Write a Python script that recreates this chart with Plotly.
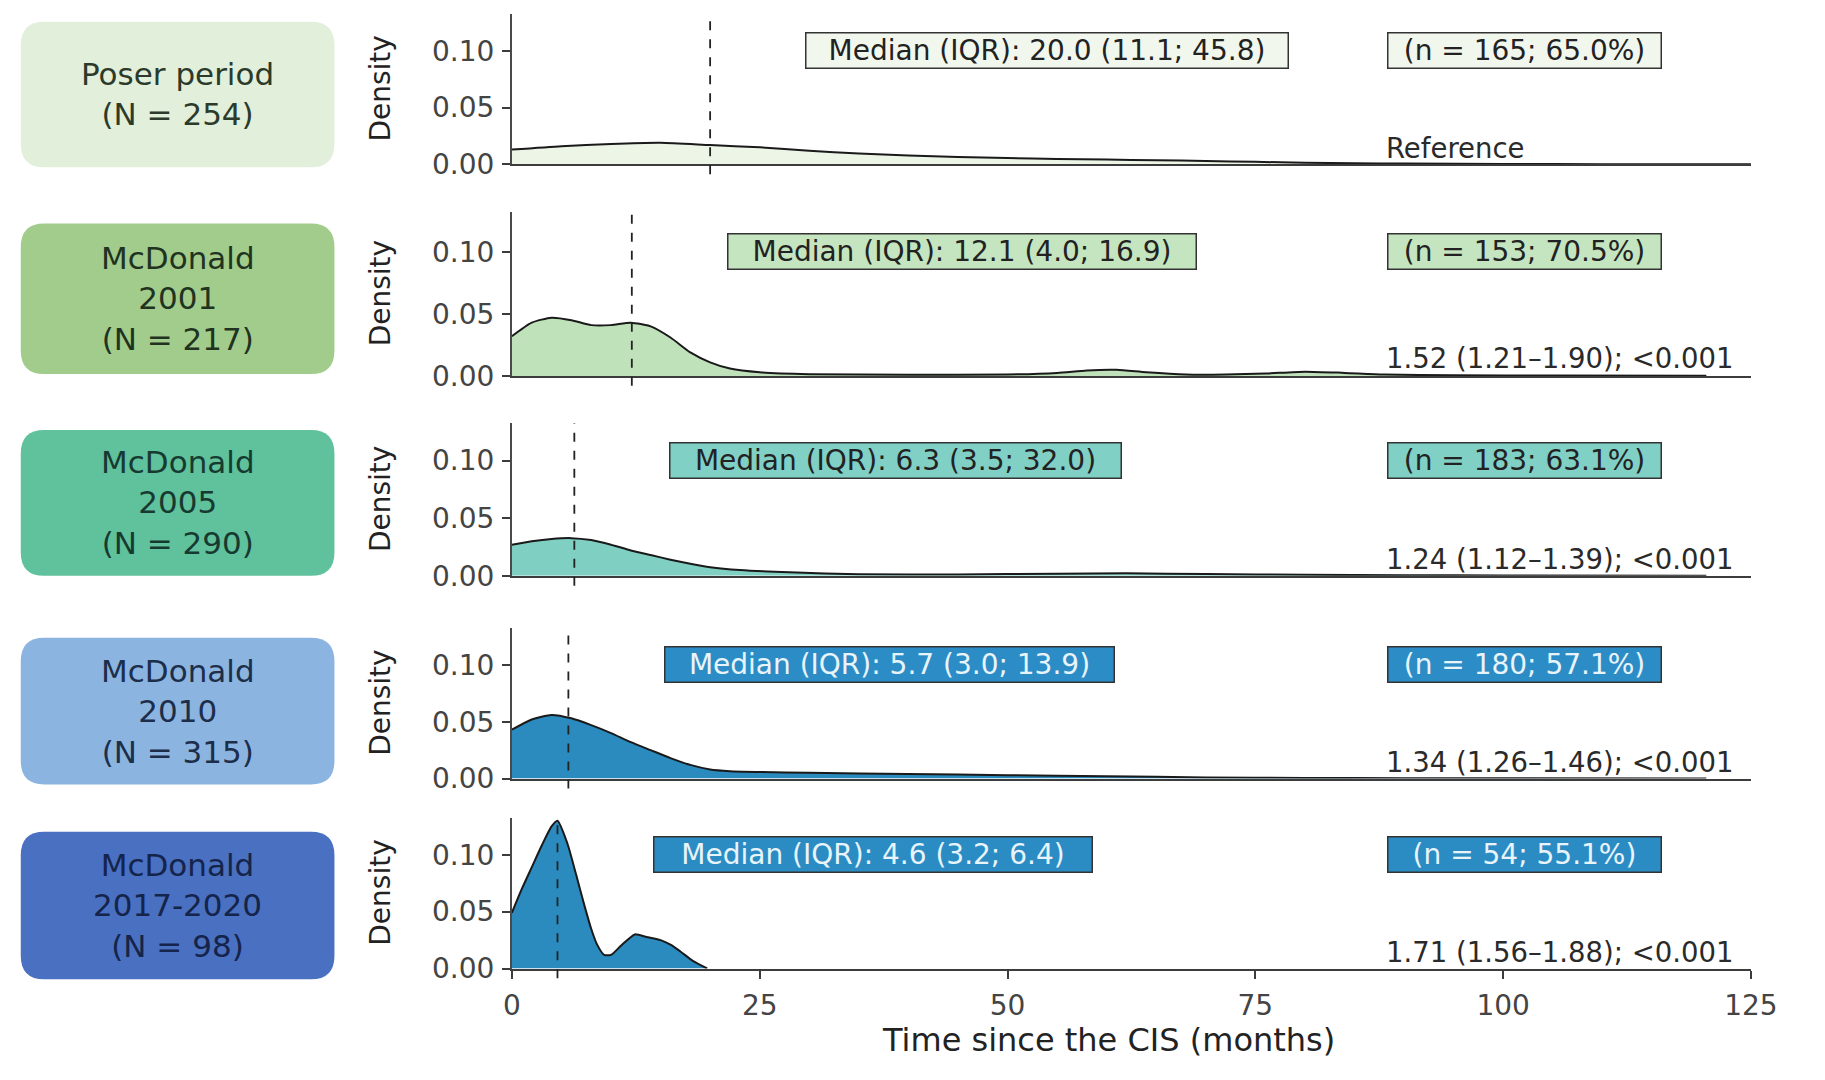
import plotly.graph_objects as go

# ---------------- data ----------------
group_names = ["Poser period", "McDonald<br>2001", "McDonald<br>2005", "McDonald<br>2010", "McDonald<br>2017-2020"]
group_n = [254, 217, 290, 315, 98]

medians = [20.0, 12.1, 6.3, 5.7, 4.6]
iqr_low = [11.1, 4.0, 3.5, 3.0, 3.2]
iqr_high = [45.8, 16.9, 32.0, 13.9, 6.4]
events_n = [165, 153, 183, 180, 54]
events_pct = [65.0, 70.5, 63.1, 57.1, 55.1]
hr_text = ["Reference", "1.52 (1.21–1.90); <0.001", "1.24 (1.12–1.39); <0.001",
           "1.34 (1.26–1.46); <0.001", "1.71 (1.56–1.88); <0.001"]

poser_x = [0, 5, 10, 15, 20, 25, 30, 35, 40, 45, 50, 55, 60, 65, 70, 75, 80, 85, 90, 100, 110, 125]
poser_density = [0.013, 0.016, 0.018, 0.019, 0.017, 0.015, 0.012, 0.0095, 0.0078, 0.0065, 0.0055,
                 0.0048, 0.0042, 0.0036, 0.003, 0.0022, 0.0015, 0.001, 0.0007, 0.0004, 0.0002, 0.0001]

mcd2001_x = [0, 2, 4, 6, 8, 10, 12, 14, 16, 18, 20, 22, 25, 30, 40, 50, 55, 58, 61, 64, 68, 72,
             76, 80, 84, 88, 95, 105, 120.5]
mcd2001_density = [0.032, 0.043, 0.047, 0.045, 0.041, 0.041, 0.043, 0.040, 0.031, 0.019, 0.011,
                   0.006, 0.003, 0.0015, 0.001, 0.0012, 0.0025, 0.0045, 0.005, 0.003, 0.0012,
                   0.0012, 0.002, 0.0035, 0.0025, 0.0012, 0.0005, 0.0003, 0.0001]

mcd2005_x = [0, 2, 4, 6, 8, 10, 12, 14, 16, 18, 20, 23, 28, 35, 45, 55, 62, 70, 80, 90, 100, 120.5]
mcd2005_density = [0.027, 0.030, 0.032, 0.0327, 0.031, 0.027, 0.022, 0.018, 0.014, 0.0105, 0.0075,
                   0.005, 0.003, 0.0014, 0.0012, 0.0018, 0.0022, 0.0015, 0.0008, 0.0005, 0.0003, 0.0001]

mcd2010_x = [0, 2, 4, 6, 8, 10, 12, 14, 16, 18, 20, 22, 25, 30, 40, 50, 60, 70, 80, 90, 100, 120.5]
mcd2010_density = [0.043, 0.052, 0.056, 0.053, 0.047, 0.040, 0.032, 0.025, 0.018, 0.012, 0.008,
                   0.0065, 0.0058, 0.005, 0.004, 0.003, 0.002, 0.001, 0.0005, 0.0003, 0.0002, 0.0001]

mcd2017_x = [0, 1, 2, 3, 4, 4.6, 5.6, 6.5, 7.3, 8.0, 8.6, 9.3, 10.0, 11.0, 12.4, 13.5, 15, 16, 17, 18.3, 19.7]
mcd2017_density = [0.049, 0.07, 0.089, 0.108, 0.125, 0.13, 0.11, 0.082, 0.056, 0.035, 0.021, 0.012,
                   0.012, 0.02, 0.030, 0.028, 0.025, 0.021, 0.015, 0.0065, 0.0]

x_tick_values = [0, 25, 50, 75, 100, 125]
y_tick_values = [0.0, 0.05, 0.10]
x_title = "Time since the CIS (months)"
y_title = "Density"

# ---------------- styles / layout ----------------
W, H = 1825, 1080
FONT = "DejaVu Sans"
curves_x = [poser_x, mcd2001_x, mcd2005_x, mcd2010_x, mcd2017_x]
curves_y = [poser_density, mcd2001_density, mcd2005_density, mcd2010_density, mcd2017_density]

box_colors = ["#e2efda", "#a2cc8c", "#60c19d", "#8cb4e1", "#4a70c1"]
box_text_colors = ["#2b3a2b", "#1f3320", "#173a30", "#1c2e4a", "#14244a"]
fill_colors = ["#edf5e7", "#c0e2bb", "#7fcfc2", "#2b8bbf", "#2b8bbf"]
label_fills = ["#f2f7ee", "#c4e5bf", "#80d0c6", "#2c8dc6", "#2b8cc4"]
label_text_colors = ["#222222", "#222222", "#222222", "#e8f4fa", "#e8f4fa"]
median_box_widths = [477, 463, 446, 444, 433]

# panel geometry in pixels (top of axis, zero line)
panel_top_px = [14, 215, 430, 638, 831]
panel_zero_px = [167, 382, 585, 791, 984]
axis_left_px, axis_right_px = 513, 1777
box_left_px, box_right_px = 12, 332
box_top_px = [22, 227, 437, 648, 845]
box_bottom_px = [170, 380, 585, 797, 995]
Y_MAX = 0.1325


def px_x(p):
    return p / W


def px_y(p):
    return 1 - p / H


def rounded_rect(x0, y0, x1, y1, r_px=24):
    rx, ry = r_px / W, r_px / H
    return (f"M {x0+rx},{y0} L {x1-rx},{y0} Q {x1},{y0} {x1},{y0+ry} "
            f"L {x1},{y1-ry} Q {x1},{y1} {x1-rx},{y1} L {x0+rx},{y1} "
            f"Q {x0},{y1} {x0},{y1-ry} L {x0},{y0+ry} Q {x0},{y0} {x0+rx},{y0} Z")


fig = go.Figure()
layout = dict(
    width=W, height=H, autosize=False,
    margin=dict(l=0, r=0, t=0, b=0),
    paper_bgcolor="white", plot_bgcolor="white",
    showlegend=False,
    font=dict(family=FONT, color="#333333"),
)
annotations = []
shapes = []

for i in range(5):
    sfx = "" if i == 0 else str(i + 1)
    xa, ya = "x" + sfx, "y" + sfx
    last = i == 4
    fig.add_trace(go.Scatter(
        x=curves_x[i], y=curves_y[i], xaxis=xa, yaxis=ya, mode="lines",
        fill="tozeroy", fillcolor=fill_colors[i],
        line=dict(color="#1a1a1a", width=2, shape="spline", smoothing=0.6),
        hoverinfo="skip", showlegend=False,
    ))
    dom_y = [px_y(panel_zero_px[i]), px_y(panel_top_px[i])]
    layout["xaxis" + sfx] = dict(
        domain=[px_x(axis_left_px), px_x(axis_right_px)], range=[0, 125], anchor=ya,
        showline=True, linecolor="#3c3c3c", linewidth=2, showgrid=False, zeroline=False,
        ticks="outside" if last else "", ticklen=8, tickwidth=2, tickcolor="#3c3c3c",
        tickvals=x_tick_values, ticktext=[str(v) for v in x_tick_values],
        showticklabels=last, tickfont=dict(family=FONT, size=28, color="#444444"),
        ticklabelstandoff=3, fixedrange=True,
    )
    layout["yaxis" + sfx] = dict(
        domain=dom_y, range=[0, Y_MAX], anchor=xa,
        showline=True, linecolor="#4a4a4a", linewidth=2, showgrid=False, zeroline=False,
        ticks="outside", ticklen=8, tickwidth=2, tickcolor="#3c3c3c",
        tickvals=y_tick_values, ticktext=[f"{v:.2f}" for v in y_tick_values],
        tickfont=dict(family=FONT, size=28, color="#444444"),
        ticklabelstandoff=2, fixedrange=True,
    )

    # dashed median line
    shapes.append(dict(
        type="line", xref=xa, yref="paper", x0=medians[i], x1=medians[i],
        y0=px_y(panel_zero_px[i] + 10), y1=px_y(panel_top_px[i]),
        line=dict(color="#222222", width=1.8, dash="dash"), layer="above",
    ))

    # median label
    annotations.append(dict(
        xref=xa, yref=ya, x=medians[i] + 9.6, y=0.10, xanchor="left", yanchor="middle",
        text=f"Median (IQR): {medians[i]:.1f} ({iqr_low[i]:.1f}; {iqr_high[i]:.1f})",
        showarrow=False, font=dict(family=FONT, size=28, color=label_text_colors[i]),
        bgcolor=label_fills[i], bordercolor="#333333", borderwidth=1.5, borderpad=2,
        width=median_box_widths[i], height=30, align="center",
    ))
    # events label
    annotations.append(dict(
        xref=xa, yref=ya, x=88.3, y=0.10, xanchor="left", yanchor="middle",
        text=f"(n = {events_n[i]}; {events_pct[i]:.1f}%)",
        showarrow=False, font=dict(family=FONT, size=28, color=label_text_colors[i]),
        bgcolor=label_fills[i], bordercolor="#333333", borderwidth=1.5, borderpad=2,
        width=268, height=30, align="center",
    ))
    # HR text
    annotations.append(dict(
        xref=xa, yref=ya, x=88.0, y=0.0145, xanchor="left", yanchor="middle",
        text=hr_text[i], showarrow=False,
        font=dict(family=FONT, size=27.5, color="#2a2a2a"),
    ))
    # y title
    annotations.append(dict(
        xref="paper", yref="paper", x=px_x(379), y=(dom_y[0] + dom_y[1]) / 2,
        xanchor="center", yanchor="middle", text=y_title, textangle=-90,
        showarrow=False, font=dict(family=FONT, size=28, color="#222222"),
    ))
    # group label box
    bx0, bx1 = px_x(box_left_px), px_x(box_right_px)
    by0, by1 = px_y(box_bottom_px[i]), px_y(box_top_px[i])
    shapes.append(dict(
        type="path", xref="paper", yref="paper", path=rounded_rect(bx0, by0, bx1, by1),
        fillcolor=box_colors[i], line=dict(width=0), layer="below",
    ))
    annotations.append(dict(
        xref="paper", yref="paper", x=(bx0 + bx1) / 2, y=(by0 + by1) / 2,
        xanchor="center", yanchor="middle",
        text=f"{group_names[i]}<br>(N = {group_n[i]})", showarrow=False,
        font=dict(family=FONT, size=31, color=box_text_colors[i]), align="center",
    ))

# x title
annotations.append(dict(
    xref="paper", yref="paper", x=px_x(1122), y=px_y(1057), xanchor="center", yanchor="middle",
    text=x_title, showarrow=False, font=dict(family=FONT, size=32, color="#222222"),
))

layout["annotations"] = annotations
layout["shapes"] = shapes
fig.update_layout(**layout)

# pin the figure to the top-left corner and make it fill the browser window exactly
post = (
    "var d=document.getElementById('{plot_id}');"
    "document.body.style.margin='0';document.body.style.overflow='hidden';"
    "document.documentElement.style.overflow='hidden';"
    "d.style.position='fixed';d.style.left='0px';d.style.top='0px';"
    "d.style.transformOrigin='0 0';"
    "var sx=window.innerWidth/" + str(W) + ", sy=window.innerHeight/" + str(H) + ";"
    "d.style.transform='scale('+sx+','+sy+')';"
)
fig.write_html(
    "out.html",
    config={"displayModeBar": False, "responsive": False},
    post_script=post,
)
